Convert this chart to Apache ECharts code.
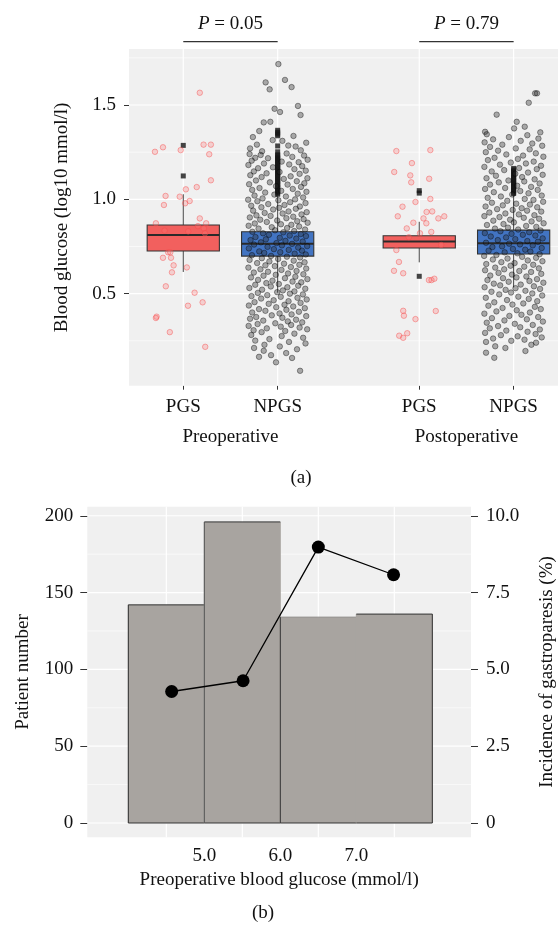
<!DOCTYPE html>
<html>
<head>
<meta charset="utf-8">
<script src="https://cdn.jsdelivr.net/npm/echarts@6.0.0/dist/echarts.min.js"></script>
<style>
  body { margin: 0; background: #fff; }
  #chart { width: 558px; height: 928px; }
</style>
</head>
<body>
<div id="chart"></div>
<script>
// ---------- panel (a) data ----------
const subLabels = ['PGS', 'NPGS', 'PGS', 'NPGS'];
const groupLabels = ['Preoperative', 'Postoperative'];
const boxPos = [0.8, 1.2, 1.8, 2.2];
const whiskerLow = [0.615, 0.505, 0.666, 0.533];
const q1 = [0.726, 0.699, 0.742, 0.710];
const median = [0.811, 0.765, 0.777, 0.767];
const q3 = [0.864, 0.828, 0.807, 0.837];
const whiskerHigh = [1.027, 1.02, 0.881, 1.026];
const pValues = ['0.05', '0.79'];

const pgsPreOut = [1.124, 1.286];
const npgsPreOut = [1.027, 1.034, 1.042, 1.049, 1.057, 1.063, 1.071, 1.079, 1.086, 1.094, 1.101, 1.108, 1.117, 1.124,
  1.131, 1.139, 1.146, 1.154, 1.161, 1.169, 1.176, 1.184, 1.192, 1.199, 1.207, 1.214, 1.221, 1.229, 1.236, 1.252,
  1.283, 1.337, 1.346, 1.356, 1.366];
const pgsPostOut = [1.033, 1.046, 0.592];
const npgsPostOut = [1.031, 1.038, 1.047, 1.054, 1.061, 1.069, 1.077, 1.085, 1.092, 1.101, 1.108, 1.116, 1.124,
  1.131, 1.14, 1.148, 1.156, 1.164];

// jittered points: [offset from box centre, value]
const pgsPre = [[0.070,1.565],[-0.120,1.252],[-0.086,1.276],[-0.011,1.261],[0.086,1.290],[0.117,1.290],[0.110,1.239],
  [0.117,1.101],[0.057,1.065],[0.011,1.053],[-0.075,1.018],[-0.015,1.014],[-0.082,0.970],[0.027,0.991],[0.008,0.979],
  [0.070,0.899],[-0.116,0.873],[0.062,0.858],[0.097,0.873],[0.087,0.846],[-0.079,0.834],[0.021,0.830],[0.092,0.820],
  [-0.064,0.719],[-0.055,0.719],[-0.086,0.690],[-0.052,0.690],[-0.041,0.650],[0.015,0.639],[-0.048,0.613],
  [-0.074,0.539],[0.048,0.505],[0.082,0.454],[0.020,0.436],[-0.113,0.378],[-0.116,0.371],[-0.057,0.296],[0.093,0.218]];

const pgsPost = [[-0.097,1.256],[0.047,1.261],[-0.031,1.192],[-0.106,1.145],[-0.038,1.127],[0.042,1.109],[-0.034,1.090],
  [0.047,1.002],[-0.016,0.986],[-0.071,0.961],[0.031,0.933],[0.055,0.936],[-0.091,0.910],[0.018,0.899],[0.081,0.899],
  [0.106,0.910],[-0.025,0.876],[0.030,0.873],[-0.053,0.846],[0.051,0.827],[0.003,0.820],[-0.044,0.799],[0.093,0.758],
  [-0.097,0.731],[-0.086,0.668],[-0.107,0.621],[-0.068,0.608],[0.041,0.572],[0.052,0.572],[0.064,0.579],
  [-0.068,0.409],[-0.065,0.383],[0.070,0.408],[-0.016,0.365],[-0.085,0.277],[-0.068,0.266],[-0.051,0.290]];

const npgsPre = [[0.003,1.717],[-0.051,1.62],[0.031,1.633],[-0.034,1.583],[0.059,1.595],[0.086,1.495],[-0.013,1.48],
  [0.010,1.463],[0.097,1.447],[-0.059,1.408],[-0.031,1.411],[-0.078,1.362],[0.067,1.336],[-0.021,1.314],
  [-0.105,1.33],[0.121,1.30],[-0.088,1.29],[0.045,1.285],[-0.117,1.27],[0.02,1.31],[0.098,1.26],[-0.066,1.255],[0.076,1.28],
  [-0.119,1.24],[-0.072,1.235],[0.038,1.243],[0.112,1.232],[-0.095,1.22],[-0.041,1.218],[0.062,1.225],[0.127,1.21],
  [-0.11,1.205],[0.017,1.2],[0.089,1.197],[-0.058,1.19],[-0.124,1.182],[0.049,1.185],[0.104,1.176],[-0.02,1.17],
  [-0.083,1.165],[0.071,1.16],[0.119,1.152],[-0.101,1.148],[0.008,1.145],[-0.047,1.138],[0.093,1.135],[-0.116,1.128],
  [0.055,1.122],[-0.068,1.118],[0.126,1.112],[0.026,1.108],[-0.092,1.1],[0.081,1.096],[-0.033,1.09],[0.113,1.085],
  [-0.121,1.08],[0.042,1.078],[-0.007,1.07],[0.099,1.066],[-0.077,1.06],[0.064,1.055],[-0.108,1.05],[0.015,1.045],
  [0.122,1.04],[-0.053,1.036],[0.085,1.03],[-0.014,1.025],[-0.098,1.02],[0.035,1.015],[0.108,1.01],[-0.064,1.005],
  [0.074,1.0],[-0.125,0.998],[0.003,0.995],
  [-0.086,0.99],[0.053,0.985],[0.118,0.98],[-0.04,0.975],[0.029,0.97],[-0.112,0.966],[0.094,0.962],[-0.069,0.958],
  [0.006,0.955],[0.077,0.95],[-0.019,0.946],[-0.104,0.94],[0.046,0.936],[0.123,0.932],[-0.055,0.928],[0.021,0.925],
  [0.101,0.92],[-0.09,0.915],[-0.03,0.912],[0.066,0.908],[-0.118,0.904],[0.037,0.9],[0.11,0.895],[-0.074,0.892],
  [-0.002,0.888],[0.083,0.884],[-0.046,0.88],[0.127,0.876],[-0.097,0.872],[0.014,0.868],[0.058,0.865],[-0.123,0.86],
  [0.091,0.856],[-0.025,0.852],[0.04,0.848],[-0.081,0.845],[0.116,0.84],[-0.011,0.836],[0.07,0.832],[-0.107,0.828],
  [0.024,0.825],[-0.062,0.82],[0.098,0.816],[-0.037,0.812],[0.051,0.808],[0.12,0.805],[-0.094,0.8],[0.009,0.796],
  [0.079,0.792],[-0.05,0.788],[-0.115,0.784],[0.033,0.78],[0.106,0.776],[-0.071,0.772],[-0.005,0.768],[0.061,0.764],
  [-0.1,0.76],[0.018,0.756],[0.125,0.752],[-0.043,0.748],[0.087,0.744],[-0.122,0.74],[-0.016,0.736],[0.047,0.732],
  [0.103,0.728],[-0.078,0.724],[0.011,0.72],[-0.057,0.716],[0.072,0.712],[0.119,0.708],[-0.109,0.704],[-0.028,0.7],
  [0.039,0.696],[0.095,0.692],[-0.067,0.688],
  [0.002,0.684],[-0.119,0.679],[0.068,0.675],[-0.035,0.671],[0.114,0.666],[-0.087,0.662],[0.027,0.659],[0.092,0.653],
  [-0.052,0.65],[-0.012,0.646],[0.056,0.641],[-0.124,0.638],[0.121,0.633],[-0.073,0.629],[0.016,0.626],[0.08,0.62],
  [-0.041,0.616],[-0.101,0.612],[0.044,0.607],[0.109,0.603],[-0.008,0.6],[-0.06,0.595],[0.075,0.59],[-0.113,0.586],
  [0.031,0.582],[0.126,0.577],[-0.083,0.573],[-0.022,0.569],[0.063,0.564],[0.1,0.56],[-0.048,0.556],[0.005,0.551],
  [-0.095,0.547],[0.087,0.542],[-0.029,0.538],[0.041,0.534],[-0.12,0.53],[0.117,0.526],[-0.066,0.521],[0.022,0.517],
  [0.071,0.512],[-0.002,0.508],[-0.084,0.504],[0.052,0.5],
  [0.107,0.496],[-0.044,0.492],[-0.111,0.487],[0.013,0.483],[0.084,0.478],[-0.07,0.474],[0.123,0.469],[-0.017,0.465],
  [0.046,0.46],[-0.098,0.455],[0.097,0.451],[-0.038,0.446],[0.029,0.441],[-0.122,0.437],[0.066,0.432],[-0.006,0.428],
  [0.115,0.423],[-0.079,0.418],[0.037,0.414],[-0.052,0.409],[0.09,0.404],[-0.108,0.4],[0.008,0.395],[0.059,0.39],
  [-0.025,0.385],[0.121,0.381],[-0.091,0.376],[0.02,0.372],[-0.117,0.367],[0.078,0.362],[-0.061,0.357],[0.043,0.353],
  [0.104,0.348],[-0.01,0.343],[-0.085,0.339],[0.057,0.334],[-0.123,0.329],[0.013,0.325],[0.093,0.32],[-0.046,0.316],
  [0.125,0.311],[-0.102,0.306],[0.032,0.302],
  [-0.068,0.296],[0.071,0.288],[-0.112,0.281],[0.017,0.275],[0.108,0.266],[-0.035,0.259],[-0.095,0.251],[0.048,0.244],
  [0.118,0.236],[-0.056,0.229],[0.009,0.22],[-0.059,0.197],[0.082,0.205],[-0.1,0.212],[0.061,0.159],[-0.007,0.136],
  [-0.028,0.174],[0.036,0.185],[0.095,0.091],[-0.079,0.165]];

const npgsPost = [[0.091,1.562],[0.099,1.562],[0.064,1.512],[-0.072,1.449],[0.013,1.411],[0.047,1.385],[0.002,1.376],
  [-0.121,1.358],[0.113,1.355],[-0.114,1.345],[0.058,1.34],[-0.02,1.33],[0.105,1.322],[-0.087,1.318],[0.03,1.31],
  [-0.123,1.302],[0.079,1.296],[-0.048,1.29],[0.121,1.284],[-0.1,1.278],[0.009,1.27],[0.068,1.265],[-0.066,1.258],
  [-0.118,1.25],[0.094,1.244],[-0.031,1.238],[0.04,1.232],[0.126,1.226],[-0.081,1.22],[0.018,1.214],[-0.109,1.208],
  [0.085,1.2],[-0.012,1.195],[0.052,1.19],[-0.058,1.184],[0.116,1.178],[-0.124,1.172],[0.023,1.166],[0.098,1.16],
  [-0.04,1.155],[-0.093,1.148],[0.061,1.142],[0.007,1.136],[0.123,1.13],[-0.075,1.125],[0.036,1.118],[-0.115,1.112],
  [0.089,1.106],[-0.022,1.1],[0.045,1.095],[-0.063,1.09],[0.11,1.084],[-0.1,1.078],[0.015,1.072],[0.074,1.066],
  [-0.036,1.06],[-0.121,1.055],[0.102,1.05],[0.028,1.044],[-0.084,1.038],[0.063,1.032],[-0.006,1.026],[0.119,1.02],
  [-0.054,1.015],[-0.11,1.008],[0.047,1.002],
  [0.084,0.997],[-0.027,0.992],[0.125,0.987],[-0.092,0.982],[0.011,0.977],[0.069,0.972],[-0.046,0.968],[-0.119,0.962],
  [0.1,0.958],[0.034,0.953],[-0.07,0.948],[-0.004,0.944],[0.057,0.94],[0.117,0.935],[-0.103,0.93],[-0.035,0.925],
  [0.022,0.92],[0.088,0.916],[-0.124,0.911],[-0.06,0.906],[0.043,0.902],[0.108,0.897],[-0.015,0.892],[-0.086,0.887],
  [0.076,0.883],[0.001,0.878],[0.127,0.873],[-0.043,0.869],[-0.113,0.864],[0.053,0.859],[0.096,0.854],[-0.024,0.85],
  [-0.079,0.845],[0.019,0.84],[0.114,0.835],[-0.056,0.831],[0.066,0.826],[-0.122,0.821],[-0.009,0.817],[0.039,0.812],
  [0.092,0.808],[-0.097,0.803],[-0.032,0.798],[0.123,0.793],[0.007,0.789],[-0.067,0.784],[0.058,0.779],[0.103,0.775],
  [-0.117,0.77],[-0.019,0.765],[0.027,0.761],[0.081,0.756],[-0.049,0.751],[-0.09,0.747],[0.119,0.742],[-0.003,0.737],
  [0.049,0.733],[-0.106,0.728],[0.071,0.723],[-0.038,0.719],[0.016,0.714],[0.11,0.709],[-0.073,0.705],[-0.125,0.7],
  [0.036,0.695],[0.095,0.69],[-0.026,0.686],[-0.088,0.681],[0.06,0.676],[0.122,0.672],[-0.052,0.667],[0.004,0.662],
  [-0.116,0.657],[0.083,0.653],[-0.013,0.648],[0.045,0.643],[-0.078,0.638],[0.107,0.634],[-0.04,0.629],[-0.121,0.624],
  [0.024,0.62],[0.074,0.615],[-0.064,0.61],[0.117,0.605],[-0.007,0.601],[-0.099,0.596],[0.054,0.591],[0.012,0.586],
  [-0.045,0.582],[0.099,0.577],[-0.111,0.572],[0.067,0.567],[-0.021,0.563],[0.126,0.558],[-0.084,0.553],[0.03,0.548],
  [-0.057,0.544],[0.086,0.539],[-0.123,0.534],[0.008,0.529],[0.112,0.525],[-0.034,0.52],[0.05,0.515],[-0.094,0.51],
  [-0.011,0.506],[0.079,0.501],
  [-0.061,0.496],[0.121,0.49],[0.02,0.484],[-0.118,0.478],[0.064,0.472],[-0.028,0.466],[0.1,0.46],[-0.082,0.454],
  [0.041,0.448],[-0.005,0.442],[-0.107,0.436],[0.09,0.43],[-0.047,0.424],[0.115,0.418],[0.013,0.412],[-0.073,0.406],
  [0.069,0.4],[-0.124,0.394],[0.033,0.388],[-0.018,0.382],[0.104,0.376],[-0.092,0.37],[0.056,0.364],[-0.039,0.358],
  [0.124,0.352],[-0.114,0.346],[0.005,0.34],[0.081,0.334],[-0.066,0.328],[0.028,0.322],[-0.101,0.316],[0.111,0.31],
  [-0.031,0.304],[0.059,0.298],[-0.121,0.292],[0.093,0.286],[-0.054,0.28],[0.017,0.274],[0.119,0.268],[-0.087,0.262],
  [0.046,0.256],[-0.01,0.25],
  [-0.117,0.244],[0.095,0.24],[0.075,0.229],[-0.035,0.212],[-0.078,0.221],[-0.117,0.187],[-0.082,0.16],[0.05,0.196]];

// ---------- panel (b) data ----------
const binEdges = [4, 5, 6, 7, 8];
const patientCounts = [142, 196, 134, 136];
const glucoseMeans = [4.57, 5.51, 6.5, 7.49];
const incidence = [4.28, 4.63, 8.98, 8.08];
const xTicksB = [5, 6, 7];
const yTicksLeft = [0, 50, 100, 150, 200];
const yTicksRight = [0, 2.5, 5, 7.5, 10];

const FONT = 'Liberation Serif';
const TXT = '#111';

const chart = echarts.init(document.getElementById('chart'));

// grid lines: [direction (0 horizontal, 1 vertical), value, major]
function gridLines(hMajor, hMinor, vMajor) {
  const out = [];
  hMinor.forEach(v => out.push([0, v, 0]));
  hMajor.forEach(v => out.push([0, v, 1]));
  vMajor.forEach(v => out.push([1, v, 1]));
  return out;
}

function renderGridLine(refX, refY) {
  return function (params, api) {
    const cs = params.coordSys;
    const dir = api.value(0);
    const v = api.value(1);
    const w = api.value(2) ? 1.2 : 0.6;
    let shape;
    if (dir === 0) {
      const y = api.coord([refX, v])[1];
      shape = { x1: cs.x, y1: y, x2: cs.x + cs.width, y2: y };
    } else {
      const x = api.coord([v, refY])[0];
      shape = { x1: x, y1: cs.y, x2: x, y2: cs.y + cs.height };
    }
    return { type: 'line', shape: shape, style: { stroke: '#ffffff', lineWidth: w } };
  };
}

const boxColors = ['#f2605e', '#4274c2', '#f2605e', '#4274c2'];
const boxData = boxPos.map((p, i) => [p, whiskerLow[i], q1[i], median[i], q3[i], whiskerHigh[i], i]);

function renderBox(params, api) {
  const x = api.value(0);
  const hw = api.size([0.153, 0])[0];
  const lo = api.coord([x, api.value(1)]);
  const b1 = api.coord([x, api.value(2)]);
  const md = api.coord([x, api.value(3)]);
  const b3 = api.coord([x, api.value(4)]);
  const hi = api.coord([x, api.value(5)]);
  const idx = api.value(6);
  return {
    type: 'group',
    children: [
      { type: 'line', shape: { x1: lo[0], y1: lo[1], x2: b1[0], y2: b1[1] }, style: { stroke: '#444', lineWidth: 1 } },
      { type: 'line', shape: { x1: b3[0], y1: b3[1], x2: hi[0], y2: hi[1] }, style: { stroke: '#444', lineWidth: 1 } },
      { type: 'rect', shape: { x: b3[0] - hw, y: b3[1], width: hw * 2, height: b1[1] - b3[1] },
        style: { fill: boxColors[idx], stroke: '#333', lineWidth: 1.1 } },
      { type: 'line', shape: { x1: md[0] - hw, y1: md[1], x2: md[0] + hw, y2: md[1] }, style: { stroke: '#2a2a2a', lineWidth: 2 } }
    ]
  };
}

const bracketData = [[boxPos[0], boxPos[1], 0], [boxPos[2], boxPos[3], 1]];
function renderBracket(params, api) {
  const a = api.coord([api.value(0), 1.836]);
  const b = api.coord([api.value(1), 1.836]);
  const lbl = pValues[api.value(2)];
  return {
    type: 'group',
    children: [
      { type: 'line', shape: { x1: a[0], y1: a[1], x2: b[0], y2: b[1] }, style: { stroke: '#333', lineWidth: 1.2 } },
      { type: 'text', x: (a[0] + b[0]) / 2, y: a[1] - 18,
        style: { text: '{i|P} = ' + lbl, fontSize: 19, fontFamily: FONT, fill: TXT, align: 'center', verticalAlign: 'middle',
          rich: { i: { fontStyle: 'italic', fontSize: 19, fontFamily: FONT, fill: TXT } } } }
    ]
  };
}

const barData = patientCounts.map((c, i) => [binEdges[i], binEdges[i + 1], c, i]);
function renderBar(params, api) {
  const i = api.value(3);
  const p0 = api.coord([api.value(0), 0]);
  const p1 = api.coord([api.value(1), api.value(2)]);
  const children = [
    { type: 'rect', shape: { x: p0[0] - 0.5, y: p1[1], width: p1[0] - p0[0] + 1, height: p0[1] - p1[1] }, style: { fill: '#a8a4a0' } },
    { type: 'line', shape: { x1: p0[0], y1: p1[1], x2: p1[0], y2: p1[1] }, style: { stroke: i === 2 ? '#8c8986' : '#333', lineWidth: 1 } },
    { type: 'line', shape: { x1: p0[0], y1: p0[1], x2: p1[0], y2: p0[1] }, style: { stroke: '#333', lineWidth: 1 } }
  ];
  if (i < 3) {
    children.push({ type: 'line', shape: { x1: p0[0], y1: p0[1], x2: p0[0], y2: p1[1] }, style: { stroke: i === 1 ? '#555' : '#333', lineWidth: 1 } });
  }
  if (i === 3) {
    children.push({ type: 'line', shape: { x1: p1[0], y1: p0[1], x2: p1[0], y2: p1[1] }, style: { stroke: '#333', lineWidth: 1 } });
  }
  return { type: 'group', children: children };
}

const redPts = pgsPre.map(p => [boxPos[0] + p[0], p[1]]).concat(pgsPost.map(p => [boxPos[2] + p[0], p[1]]));
const greyPts = npgsPre.map(p => [boxPos[1] + p[0], p[1]]).concat(npgsPost.map(p => [boxPos[3] + p[0], p[1]]));
const outPts = [].concat(
  pgsPreOut.map(v => [boxPos[0], v]), npgsPreOut.map(v => [boxPos[1], v]),
  pgsPostOut.map(v => [boxPos[2], v]), npgsPostOut.map(v => [boxPos[3], v]));

const axisText = { fontFamily: FONT, fontSize: 19, color: TXT };
const nameText = { fontFamily: FONT, fontSize: 19, color: TXT };

const option = {
  animation: false,
  backgroundColor: '#ffffff',
  textStyle: { fontFamily: FONT },
  graphic: [
    { type: 'text', x: 301, y: 478, style: { text: '(a)', fontFamily: FONT, fontSize: 19, fill: TXT, align: 'center', verticalAlign: 'middle' } },
    { type: 'text', x: 263, y: 913, style: { text: '(b)', fontFamily: FONT, fontSize: 19, fill: TXT, align: 'center', verticalAlign: 'middle' } }
  ],
  grid: [
    { left: 129, right: 0, top: 49, bottom: 542.3, show: true, backgroundColor: '#f0f0f0', borderWidth: 0, outerBoundsMode: 'none' },
    { left: 87.3, right: 87, top: 506.7, bottom: 90.7, show: true, backgroundColor: '#f0f0f0', borderWidth: 0, outerBoundsMode: 'none' }
  ],
  xAxis: [
    { type: 'value', gridIndex: 0, min: 0.57, max: 2.388,
      axisLine: { show: false }, splitLine: { show: false },
      axisTick: { customValues: boxPos, length: 4, lineStyle: { color: '#333' } },
      axisLabel: Object.assign({ customValues: boxPos, margin: 12, formatter: v => subLabels[boxPos.indexOf(+v.toFixed(1))] }, axisText) },
    { type: 'value', gridIndex: 0, min: 0.57, max: 2.388, position: 'bottom',
      axisLine: { show: false }, splitLine: { show: false }, axisTick: { show: false },
      axisLabel: Object.assign({ customValues: [1, 2], margin: 42, formatter: v => groupLabels[Math.round(v) - 1] }, axisText) },
    { type: 'value', gridIndex: 1, min: 3.46, max: 8.509,
      axisLine: { show: false }, splitLine: { show: false }, axisTick: { show: false },
      axisLabel: Object.assign({ customValues: xTicksB, margin: 9, formatter: v => v.toFixed(1) }, axisText),
      name: 'Preoperative blood glucose (mmol/l)', nameLocation: 'middle', nameGap: 33, nameTextStyle: nameText }
  ],
  yAxis: [
    { type: 'value', gridIndex: 0, min: 0.012, max: 1.797,
      axisLine: { show: false }, splitLine: { show: false },
      axisTick: { customValues: [0.5, 1, 1.5], length: 5, lineStyle: { color: '#333' } },
      axisLabel: Object.assign({ customValues: [0.5, 1, 1.5], margin: 13, formatter: v => v.toFixed(1) }, axisText),
      name: 'Blood glucose (log10 mmol/l)', nameLocation: 'middle', nameGap: 57, nameTextStyle: nameText },
    { type: 'value', gridIndex: 1, min: -9.3, max: 205.9,
      axisLine: { show: false }, splitLine: { show: false },
      axisTick: { customValues: yTicksLeft, length: 7, lineStyle: { color: '#333' } },
      axisLabel: Object.assign({ customValues: yTicksLeft, margin: 14 }, axisText),
      name: 'Patient number', nameLocation: 'middle', nameGap: 55, nameTextStyle: nameText },
    { type: 'value', gridIndex: 1, min: -0.465, max: 10.295, position: 'right',
      axisLine: { show: false }, splitLine: { show: false },
      axisTick: { customValues: yTicksRight, length: 7, lineStyle: { color: '#333' } },
      axisLabel: Object.assign({ customValues: yTicksRight, margin: 15, formatter: v => (v === 0 ? '0' : v.toFixed(1)) }, axisText),
      name: 'Incidence of gastroparesis (%)', nameLocation: 'middle', nameGap: 67, nameTextStyle: nameText }
  ],
  series: [
    { type: 'custom', xAxisIndex: 0, yAxisIndex: 0, z: 1, silent: true,
      renderItem: renderGridLine(1, 1),
      data: gridLines([0.5, 1, 1.5], [0.25, 0.75, 1.25, 1.75], boxPos) },
    { type: 'custom', xAxisIndex: 0, yAxisIndex: 0, z: 2, renderItem: renderBox,
      encode: { x: 0, y: [1, 2, 3, 4, 5] }, data: boxData },
    { type: 'scatter', xAxisIndex: 0, yAxisIndex: 0, z: 3, symbol: 'rect', symbolSize: 5,
      itemStyle: { color: '#161616' }, data: outPts },
    { type: 'scatter', xAxisIndex: 0, yAxisIndex: 0, z: 4, symbolSize: 5.5,
      itemStyle: { color: 'rgba(40,40,40,0.45)', borderColor: 'rgba(0,0,0,0.6)', borderWidth: 0.8 }, data: greyPts },
    { type: 'scatter', xAxisIndex: 0, yAxisIndex: 0, z: 4, symbolSize: 5.5,
      itemStyle: { color: 'rgba(255,120,120,0.35)', borderColor: 'rgba(245,70,70,0.6)', borderWidth: 0.9 }, data: redPts },
    { type: 'custom', xAxisIndex: 0, yAxisIndex: 0, z: 5, clip: false, renderItem: renderBracket,
      encode: { x: [0, 1] }, data: bracketData },

    { type: 'custom', xAxisIndex: 2, yAxisIndex: 1, z: 1, silent: true,
      renderItem: renderGridLine(5, 0),
      data: gridLines(yTicksLeft, [25, 75, 125, 175], [4.5, 5.5, 6.5, 7.5]) },
    { type: 'custom', xAxisIndex: 2, yAxisIndex: 1, z: 2, renderItem: renderBar,
      encode: { x: [0, 1], y: 2 }, data: barData },
    { type: 'line', xAxisIndex: 2, yAxisIndex: 2, z: 5, symbol: 'circle', symbolSize: 13,
      itemStyle: { color: '#000' }, lineStyle: { color: '#000', width: 1.3 },
      data: glucoseMeans.map((g, i) => [g, incidence[i]]) }
  ]
};

chart.setOption(option);
</script>
</body>
</html>
